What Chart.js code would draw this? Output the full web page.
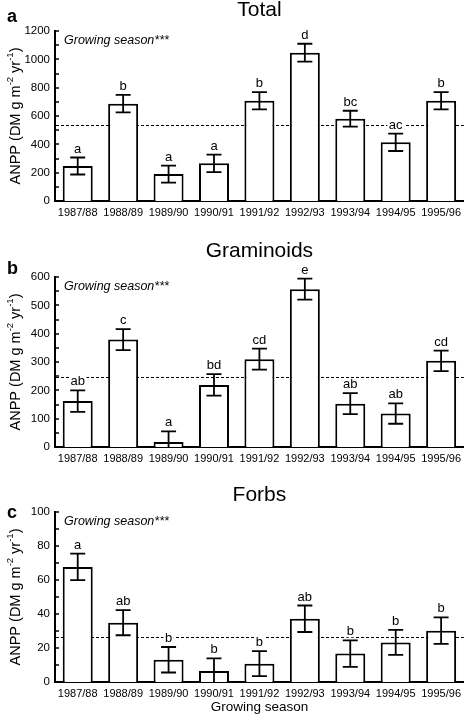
<!DOCTYPE html>
<html>
<head>
<meta charset="utf-8">
<script src="https://cdn.jsdelivr.net/npm/chart.js@4.4.0/dist/chart.umd.min.js"></script>
<style>
  body { margin: 0; background: #fff; width: 466px; height: 715px; position: relative; overflow: hidden; }
  canvas { position: absolute; left: 0; }
</style>
</head>
<body>
<canvas id="chartA" width="466" height="232" style="top:0px;width:466px;height:232px"></canvas>
<canvas id="chartB" width="466" height="240" style="top:232px;width:466px;height:240px"></canvas>
<canvas id="chartC" width="466" height="243" style="top:472px;width:466px;height:243px"></canvas>
<script>
const seasons = ['1987/88', '1988/89', '1989/90', '1990/91', '1991/92', '1992/93', '1993/94', '1994/95', '1995/96'];

const totalValues = [247, 687, 190, 266, 708, 1047, 581, 414, 708];
const totalErrors = [60, 62, 60, 62, 61, 63, 56, 61, 61];
const totalLetters = ['a', 'b', 'a', 'a', 'b', 'd', 'bc', 'ac', 'b'];
const totalMean = 536;

const gramValues = [162, 379, 18, 219, 310, 557, 153, 118, 304];
const gramErrors = [38, 37, 37, 38, 37, 37, 37, 36, 36];
const gramLetters = ['ab', 'c', 'a', 'bd', 'cd', 'e', 'ab', 'ab', 'cd'];
const gramMean = 247;

const forbValues = [67.7, 34.9, 13.1, 6.5, 10.8, 37.2, 16.7, 23.3, 30.2];
const forbErrors = [7.8, 7.4, 7.5, 7.4, 7.4, 7.8, 7.8, 7.4, 7.8];
const forbLetters = ['a', 'ab', 'b', 'b', 'b', 'ab', 'b', 'b', 'b'];
const forbMean = 26.4;

const FONT = "'Liberation Sans', Arial, sans-serif";
Chart.defaults.font.family = FONT;
Chart.defaults.color = '#000';

const panelPlugin = {
  id: 'panel',
  beforeDatasetsDraw(chart, args, o) {
    // dashed mean line, hidden behind the white bars
    const { ctx, chartArea: a, scales: { y } } = chart;
    const py = Math.round(y.getPixelForValue(o.mean)) + 0.5;
    ctx.save();
    ctx.setLineDash([3, 2]);
    ctx.lineWidth = 1;
    ctx.strokeStyle = '#000';
    ctx.beginPath();
    ctx.moveTo(a.left + 1, py);
    ctx.lineTo(a.right, py);
    ctx.stroke();
    ctx.restore();
  },
  afterDatasetsDraw(chart, args, o) {
    const { ctx, chartArea: a, scales: { y } } = chart;
    const values = chart.data.datasets[0].data;
    const bars = chart.getDatasetMeta(0).data;
    const tops = [];
    ctx.save();
    ctx.beginPath();
    ctx.rect(a.left, 0, a.width, a.bottom);
    ctx.clip();
    ctx.strokeStyle = '#000';
    ctx.lineWidth = 1.8;
    bars.forEach((bar, i) => {
      const yt = y.getPixelForValue(values[i] + o.errors[i]);
      const yb = y.getPixelForValue(values[i] - o.errors[i]);
      tops.push(yt);
      ctx.beginPath();
      ctx.moveTo(bar.x, yt); ctx.lineTo(bar.x, yb);
      ctx.moveTo(bar.x - 7.5, yt); ctx.lineTo(bar.x + 7.5, yt);
      ctx.moveTo(bar.x - 7.5, yb); ctx.lineTo(bar.x + 7.5, yb);
      ctx.stroke();
    });
    ctx.restore();

    // significance letters
    ctx.save();
    ctx.font = '13px ' + FONT;
    ctx.textAlign = 'center';
    ctx.textBaseline = 'alphabetic';
    bars.forEach((bar, i) => {
      const w = ctx.measureText(o.letters[i]).width;
      const base = tops[i] - 5;
      ctx.fillStyle = '#fff';
      ctx.fillRect(bar.x - w / 2 - 1.5, base - 10, w + 3, 12);
      ctx.fillStyle = '#000';
      ctx.fillText(o.letters[i], bar.x, base);
    });
    ctx.restore();
  },
  afterDraw(chart, args, o) {
    const { ctx, chartArea: a, scales: { y } } = chart;
    ctx.save();
    ctx.fillStyle = '#000';
    ctx.strokeStyle = '#000';

    // inward ticks, major and minor
    ctx.lineWidth = 1.5;
    for (let v = 0; v <= o.max + 1e-9; v += o.minor) {
      const py = Math.round(y.getPixelForValue(v));
      ctx.beginPath();
      ctx.moveTo(a.left, py);
      ctx.lineTo(a.left + 4, py);
      ctx.stroke();
    }

    // panel title
    ctx.textBaseline = 'alphabetic';
    ctx.textAlign = 'center';
    ctx.font = '21px ' + FONT;
    ctx.fillText(o.title, (a.left + a.right) / 2, o.titleY);

    // panel tag
    ctx.textAlign = 'left';
    ctx.font = 'bold 18px ' + FONT;
    ctx.fillText(o.tag, 7, o.tagY);

    // note
    ctx.font = 'italic 12.5px ' + FONT;
    ctx.fillText('Growing season***', a.left + 9, a.top + 13);

    // x title
    if (o.xTitle) {
      ctx.textAlign = 'center';
      ctx.font = '13.5px ' + FONT;
      ctx.fillText(o.xTitle, (a.left + a.right) / 2, o.xTitleY);
    }

    // y title with superscripts
    const parts = [['ANPP (DM g m', false], ['-2', true], [' yr', false], ['-1', true], [')', false]];
    const big = 14.5, small = 9.5;
    let total = 0;
    const widths = parts.map(([t, sup]) => {
      ctx.font = (sup ? small : big) + 'px ' + FONT;
      const w = ctx.measureText(t).width;
      total += w;
      return w;
    });
    ctx.translate(20, (a.top + a.bottom) / 2);
    ctx.rotate(-Math.PI / 2);
    ctx.textAlign = 'left';
    let x = -total / 2;
    parts.forEach(([t, sup], i) => {
      ctx.font = (sup ? small : big) + 'px ' + FONT;
      ctx.fillText(t, x, sup ? -big * 0.45 : 0);
      x += widths[i];
    });
    ctx.restore();
  }
};

function makePanel(id, values, errors, letters, mean, cfg) {
  return new Chart(document.getElementById(id), {
    type: 'bar',
    data: {
      labels: seasons,
      datasets: [{
        data: values,
        backgroundColor: '#fff',
        borderColor: '#000',
        borderWidth: 2,
        borderSkipped: 'start',
        barPercentage: 0.66,
        categoryPercentage: 1
      }]
    },
    options: {
      responsive: false,
      animation: false,
      layout: { padding: { top: cfg.top, left: 0, right: 0, bottom: 0 } },
      plugins: {
        legend: { display: false },
        tooltip: { enabled: false },
        panel: {
          mean: mean,
          errors: errors,
          letters: letters,
          max: cfg.max,
          minor: cfg.step / 2,
          title: cfg.title,
          titleY: cfg.titleY,
          tag: cfg.tag,
          tagY: cfg.tagY,
          xTitle: cfg.xTitle,
          xTitleY: cfg.xTitleY
        }
      },
      scales: {
        x: {
          grid: { display: false, drawTicks: false },
          border: { color: '#000', width: 2 },
          ticks: { font: { size: 11 }, padding: 5, maxRotation: 0, autoSkip: false },
          afterFit: s => { s.height = cfg.xHeight; }
        },
        y: {
          min: 0,
          max: cfg.max,
          grid: { display: false, drawTicks: false },
          border: { color: '#000', width: 2 },
          ticks: { stepSize: cfg.step, font: { size: 11.5 }, padding: 5, callback: v => String(v) },
          afterFit: s => { s.width = 55; }
        }
      }
    },
    plugins: [panelPlugin]
  });
}

makePanel('chartA', totalValues, totalErrors, totalLetters, totalMean, {
  top: 31, xHeight: 31, max: 1200, step: 200,
  title: 'Total', titleY: 16, tag: 'a', tagY: 22
});
makePanel('chartB', gramValues, gramErrors, gramLetters, gramMean, {
  top: 45, xHeight: 25, max: 600, step: 100,
  title: 'Graminoids', titleY: 25, tag: 'b', tagY: 42
});
makePanel('chartC', forbValues, forbErrors, forbLetters, forbMean, {
  top: 40, xHeight: 33, max: 100, step: 20,
  title: 'Forbs', titleY: 29, tag: 'c', tagY: 46,
  xTitle: 'Growing season', xTitleY: 239
});
</script>
</body>
</html>
